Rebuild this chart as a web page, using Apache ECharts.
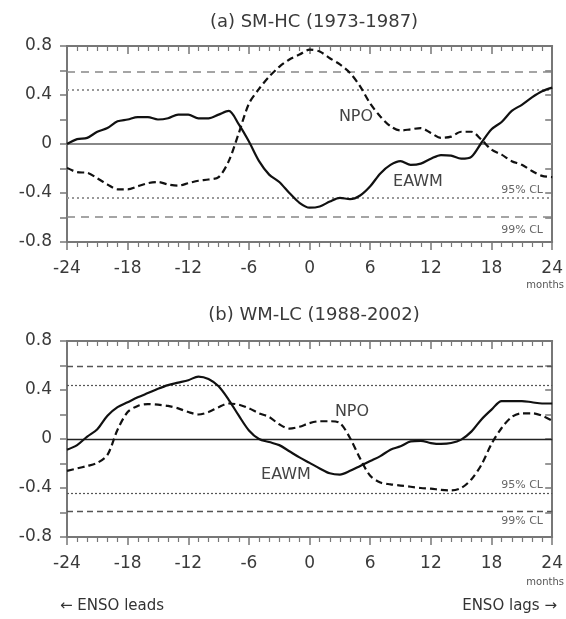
<!DOCTYPE html>
<html>
<head>
<meta charset="utf-8">
<script src="https://cdn.jsdelivr.net/npm/echarts@6/dist/echarts.min.js"></script>
<style>html,body{margin:0;padding:0;background:#fff}#c{width:566px;height:619px}</style>
</head>
<body>
<div id="c"></div>
<script>
// ---- data ----
var months = [-24,-23,-22,-21,-20,-19,-18,-17,-16,-15,-14,-13,-12,-11,-10,-9,-8,-7,-6,-5,-4,-3,-2,-1,0,1,2,3,4,5,6,7,8,9,10,11,12,13,14,15,16,17,18,19,20,21,22,23,24];
var eawmA = [0.00,0.04,0.05,0.10,0.13,0.185,0.20,0.22,0.22,0.20,0.21,0.24,0.24,0.21,0.21,0.24,0.27,0.16,0.02,-0.14,-0.25,-0.31,-0.40,-0.48,-0.52,-0.51,-0.47,-0.44,-0.45,-0.42,-0.345,-0.24,-0.17,-0.14,-0.17,-0.16,-0.12,-0.09,-0.095,-0.12,-0.105,0.01,0.12,0.18,0.27,0.32,0.38,0.43,0.46];
var npoA  = [-0.195,-0.23,-0.235,-0.28,-0.33,-0.37,-0.37,-0.345,-0.32,-0.31,-0.33,-0.34,-0.32,-0.30,-0.29,-0.27,-0.14,0.09,0.33,0.45,0.55,0.63,0.69,0.73,0.77,0.755,0.70,0.65,0.58,0.47,0.33,0.225,0.145,0.11,0.12,0.13,0.09,0.05,0.06,0.10,0.10,0.035,-0.046,-0.087,-0.14,-0.17,-0.22,-0.26,-0.27];
var eawmB = [-0.087,-0.05,0.02,0.08,0.19,0.26,0.30,0.34,0.375,0.41,0.44,0.46,0.48,0.51,0.49,0.43,0.32,0.19,0.07,0.0,-0.025,-0.05,-0.10,-0.15,-0.195,-0.24,-0.28,-0.29,-0.26,-0.22,-0.18,-0.14,-0.087,-0.06,-0.02,-0.015,-0.033,-0.04,-0.033,-0.005,0.06,0.16,0.24,0.31,0.31,0.31,0.30,0.29,0.29];
var npoB  = [-0.26,-0.24,-0.22,-0.195,-0.13,0.076,0.22,0.27,0.285,0.28,0.27,0.25,0.22,0.20,0.22,0.26,0.29,0.28,0.25,0.21,0.18,0.12,0.085,0.10,0.13,0.145,0.145,0.13,0.008,-0.16,-0.30,-0.355,-0.37,-0.38,-0.39,-0.40,-0.405,-0.415,-0.42,-0.40,-0.33,-0.21,-0.04,0.09,0.18,0.21,0.21,0.19,0.15];
var cl95 = [0.44, -0.44];
var cl99 = [0.59, -0.59];
var panelTitles = ['(a) SM-HC (1973-1987)', '(b) WM-LC (1988-2002)'];
var yTicks = {min: -0.8, max: 0.8, interval: 0.4};
var xTicks = {min: -24, max: 24, interval: 6};

function pairs(vals){ return months.map(function(m,i){ return [m, vals[i]]; }); }

var FONT = 'DejaVu Sans';
var axisCol = '#777';
var labelCol = '#3a3a3a';

function yAx(gi, right){
  return {
    type:'value', gridIndex: gi, min: yTicks.min, max: yTicks.max, interval: yTicks.interval,
    position: right ? 'right' : 'left',
    axisLine:{show:true, onZero:false, lineStyle:{color:axisCol, width:2}},
    axisTick:{show:true, inside: !!right, length:7, lineStyle:{color:axisCol, width:1.5}},
    minorTick:{show:true, splitNumber:2, length:7, lineStyle:{color:axisCol, width:1.5}},
    axisLabel:{show: !right, color:labelCol, fontFamily:FONT, fontSize:17, margin:15},
    splitLine:{show:false}
  };
}
function xAx(gi, top){
  return {
    type:'value', gridIndex: gi, min: xTicks.min, max: xTicks.max, interval: xTicks.interval,
    position: top ? 'top' : 'bottom',
    axisLine:{show:true, onZero:false, lineStyle:{color:axisCol, width:2}},
    axisTick:{show:true, inside: !!top, length:8, lineStyle:{color:axisCol, width:1.5}},
    minorTick:{show:true, splitNumber:6, length:5, lineStyle:{color:axisCol, width:1.2}},
    axisLabel:{show: !top, color:labelCol, fontFamily:FONT, fontSize:17, margin:18},
    splitLine:{show:false}
  };
}
function refLines(style95, style99, zeroStyle){
  var d = [{yAxis:0, lineStyle:zeroStyle}];
  cl95.forEach(function(v){ d.push({yAxis:v, lineStyle:style95}); });
  cl99.forEach(function(v){ d.push({yAxis:v, lineStyle:style99}); });
  return {silent:true, symbol:'none', label:{show:false}, data:d};
}

var chart = echarts.init(document.getElementById('c'), null, {renderer:'canvas'});
chart.setOption({
  animation:false,
  backgroundColor:'#fff',
  grid:[
    {left:67, width:488, top:46, height:196},
    {left:67, width:488, top:341, height:196}
  ],
  xAxis:[xAx(0,false), xAx(0,true), xAx(1,false), xAx(1,true)],
  yAxis:[yAx(0,false), yAx(0,true), yAx(1,false), yAx(1,true)],
  series:[
    {type:'line', xAxisIndex:0, yAxisIndex:0, data:pairs(eawmA), showSymbol:false, smooth:0.3,
     lineStyle:{color:'#111', width:2.2}, z:5,
     markLine: refLines({color:'#999', width:2, type:[2,3]}, {color:'#888', width:1.6, type:[8,6]}, {color:'#888', width:2, type:'solid'})},
    {type:'line', xAxisIndex:0, yAxisIndex:0, data:pairs(npoA), showSymbol:false, smooth:0.3,
     lineStyle:{color:'#111', width:2.2, type:[7,4]}, z:5},
    {type:'line', xAxisIndex:2, yAxisIndex:2, data:pairs(eawmB), showSymbol:false, smooth:0.3,
     lineStyle:{color:'#111', width:2.2}, z:5,
     markLine: refLines({color:'#555', width:1.2, type:[2,2]}, {color:'#555', width:1.3, type:[6,4]}, {color:'#222', width:1.3, type:'solid'})},
    {type:'line', xAxisIndex:2, yAxisIndex:2, data:pairs(npoB), showSymbol:false, smooth:0.3,
     lineStyle:{color:'#111', width:2.2, type:[7,4]}, z:5}
  ],
  graphic:[
    {type:'text', x:314, y:22, style:{text:panelTitles[0], font:'18px "DejaVu Sans"', fill:'#3a3a3a', align:'center', verticalAlign:'middle'}},
    {type:'text', x:314, y:315, style:{text:panelTitles[1], font:'18px "DejaVu Sans"', fill:'#3a3a3a', align:'center', verticalAlign:'middle'}},
    {type:'text', x:356, y:117, style:{text:'NPO', font:'16px "DejaVu Sans"', fill:'#444', align:'center', verticalAlign:'middle'}},
    {type:'text', x:418, y:182, style:{text:'EAWM', font:'16px "DejaVu Sans"', fill:'#444', align:'center', verticalAlign:'middle'}},
    {type:'text', x:352, y:412, style:{text:'NPO', font:'16px "DejaVu Sans"', fill:'#444', align:'center', verticalAlign:'middle'}},
    {type:'text', x:286, y:475, style:{text:'EAWM', font:'16px "DejaVu Sans"', fill:'#444', align:'center', verticalAlign:'middle'}},
    {type:'text', x:543, y:190, style:{text:'95% CL', font:'11px "DejaVu Sans"', fill:'#666', align:'right', verticalAlign:'middle'}},
    {type:'text', x:543, y:230, style:{text:'99% CL', font:'11px "DejaVu Sans"', fill:'#666', align:'right', verticalAlign:'middle'}},
    {type:'text', x:543, y:485, style:{text:'95% CL', font:'11px "DejaVu Sans"', fill:'#666', align:'right', verticalAlign:'middle'}},
    {type:'text', x:543, y:521, style:{text:'99% CL', font:'11px "DejaVu Sans"', fill:'#666', align:'right', verticalAlign:'middle'}},
    {type:'text', x:564, y:285, style:{text:'months', font:'10px "DejaVu Sans"', fill:'#555', align:'right', verticalAlign:'middle'}},
    {type:'text', x:564, y:582, style:{text:'months', font:'10px "DejaVu Sans"', fill:'#555', align:'right', verticalAlign:'middle'}},
    {type:'text', x:60, y:606, style:{text:'\u2190 ENSO leads', font:'15px "DejaVu Sans"', fill:'#333', align:'left', verticalAlign:'middle'}},
    {type:'text', x:557, y:606, style:{text:'ENSO lags \u2192', font:'15px "DejaVu Sans"', fill:'#333', align:'right', verticalAlign:'middle'}}
  ]
});
</script>
</body>
</html>
